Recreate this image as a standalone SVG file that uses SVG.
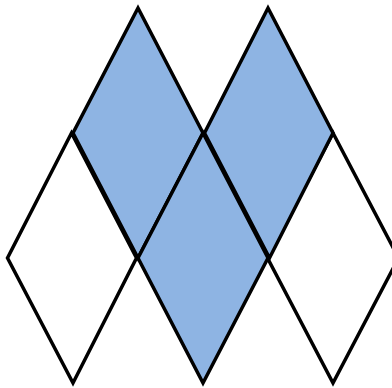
<svg xmlns="http://www.w3.org/2000/svg" width="392" height="388" viewBox="0 0 392 388">
<style>
.d{stroke:#000;stroke-width:3.5;stroke-linejoin:miter;stroke-miterlimit:10}
.w{fill:#fff}
.b{fill:#8eb4e3}
</style>
<rect width="392" height="388" fill="#fff"/>
<g id="diamond-white-left"><polygon class="d w" points="71.5,133 136.5,258 73,383 7.5,258"/></g>
<g id="diamond-white-right"><polygon class="d w" points="333,133 398.5,258 333,383 267.5,258"/></g>
<g id="diamond-blue-top-left"><polygon class="d b" points="138,8 203,133 138,258 73,133"/></g>
<g id="diamond-blue-middle"><polygon class="d b" points="203,133 268,258 203,383 138,258"/></g>
<g id="diamond-blue-top-right"><polygon class="d b" points="268,8 333,133 269.5,258 204.5,133"/></g>
<g id="connectors"></g>
</svg>
